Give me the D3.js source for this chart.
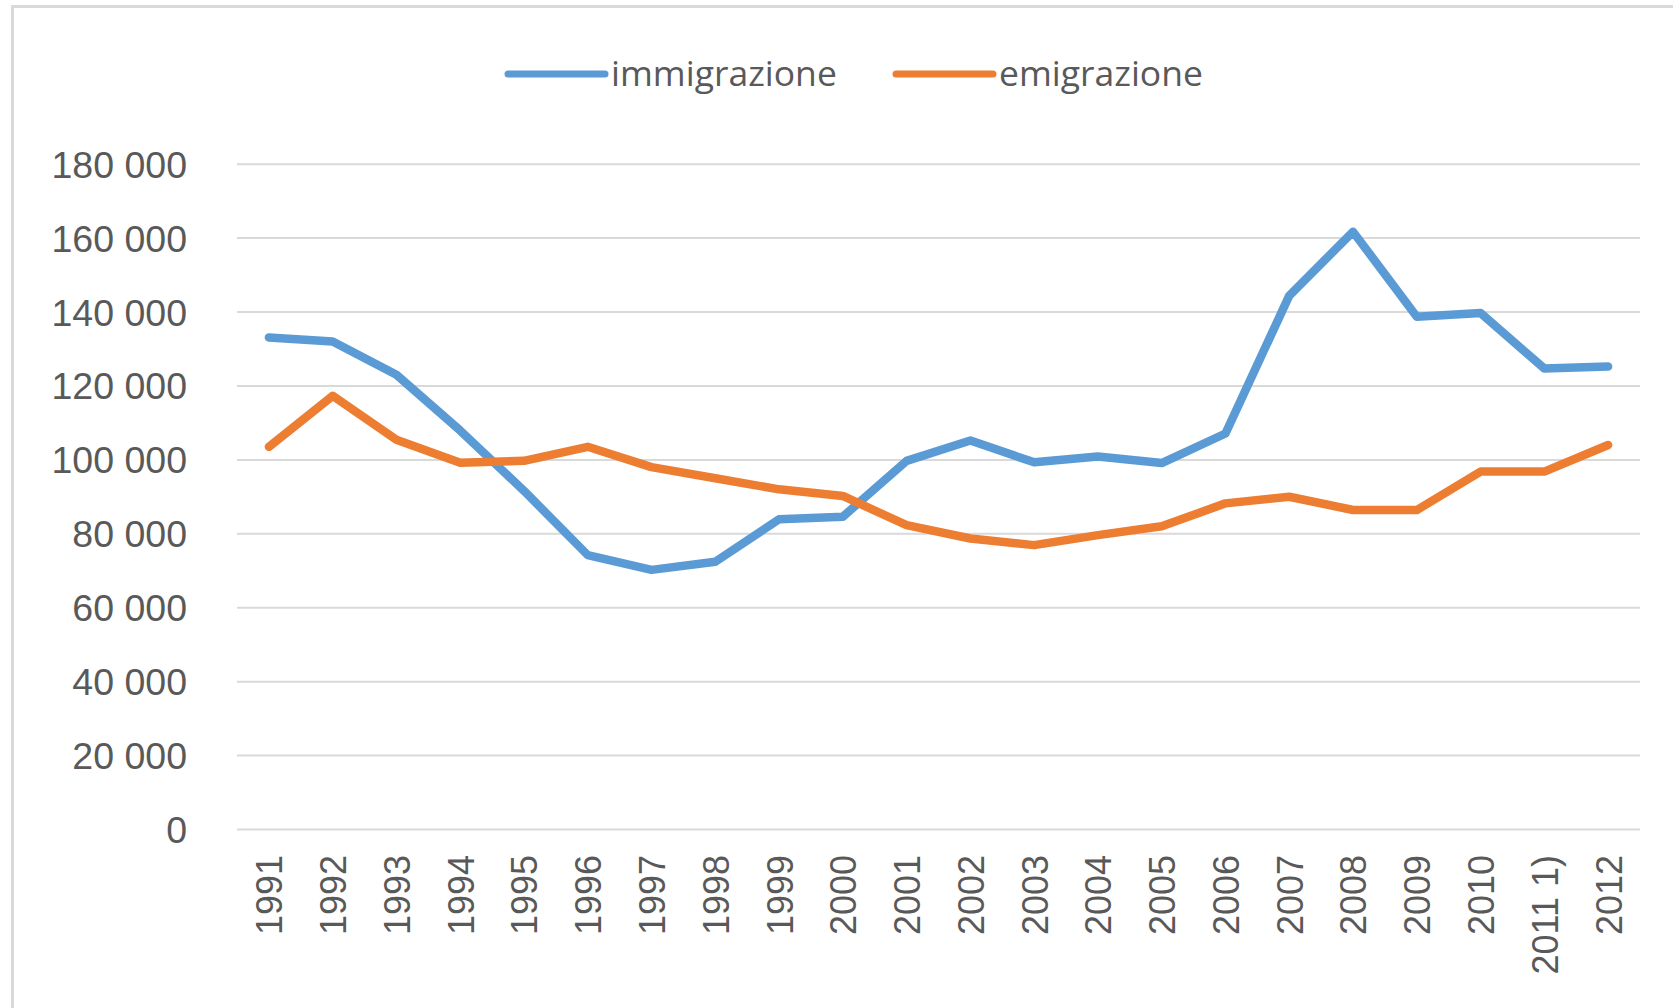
<!doctype html>
<html lang="it">
<head>
<meta charset="utf-8">
<script src="https://d3js.org/d3.v7.min.js"></script>
<style>
  body { margin: 0; background: #fff; }
  svg { display: block; font-family: "Open Sans", sans-serif; }
  .grid line { stroke: #d9d9d9; stroke-width: 2; }
  .grid .domain { display: none; }
  .axis text { fill: #595959; font-size: 36px; }
  .grid text { font-size: 37.5px; }
  .legend text { fill: #595959; font-size: 35.5px; }
</style>
</head>
<body>
<svg width="1673" height="1008"></svg>
<script>
  // years on the category axis
  var years = ["1991", "1992", "1993", "1994", "1995", "1996", "1997", "1998", "1999", "2000",
               "2001", "2002", "2003", "2004", "2005", "2006", "2007", "2008", "2009", "2010",
               "2011 1)", "2012"];
  var immigrazione = [133000, 131900, 122900, 107800, 91500, 74100, 70100, 72300, 83800, 84500,
                      99600, 105100, 99200, 100800, 99000, 107000, 144300, 161600, 138600, 139600,
                      124600, 125100];
  var emigrazione = [103400, 117200, 105300, 99100, 99600, 103400, 97900, 94900, 91900, 90100,
                     82200, 78600, 76800, 79500, 81900, 88100, 89900, 86300, 86300, 96700,
                     96700, 103900];
  var yTicks = [0, 20000, 40000, 60000, 80000, 100000, 120000, 140000, 160000, 180000];

  var series = [
    { name: "immigrazione", values: immigrazione, color: "#5b9bd5" },
    { name: "emigrazione", values: emigrazione, color: "#ed7d31" }
  ];

  function draw() {
    var svg = d3.select("svg");

    // chart frame (only top and left edges are visible in the picture)
    svg.append("rect")
      .attr("x", 12.5).attr("y", 6.5)
      .attr("width", 1700).attr("height", 1050)
      .attr("fill", "none")
      .attr("stroke", "#d9d9d9")
      .attr("stroke-width", 3);

    var plotLeft = 237, plotRight = 1640, plotTop = 163.7, plotBottom = 829;

    var x = d3.scalePoint()
      .domain(years)
      .range([plotLeft, plotRight])
      .padding(0.5);
    var y = d3.scaleLinear()
      .domain([0, 180000])
      .range([plotBottom, plotTop]);

    var fmt = d3.formatLocale({ decimal: ",", thousands: " ", grouping: [3], currency: ["", ""] }).format(",d");

    // horizontal gridlines + y labels
    var yAxis = svg.append("g")
      .attr("class", "grid axis")
      .attr("transform", "translate(" + plotLeft + ",0)")
      .call(d3.axisLeft(y).tickValues(yTicks).tickSize(-(plotRight - plotLeft)).tickPadding(50).tickFormat(fmt));
    yAxis.selectAll("text").attr("dy", "0.36em");

    // x labels, rotated
    var xAxis = svg.append("g")
      .attr("class", "axis")
      .attr("transform", "translate(0," + plotBottom + ")")
      .call(d3.axisBottom(x).tickSize(0));
    xAxis.select(".domain").remove();
    xAxis.selectAll("text")
      .attr("transform", "rotate(-90)")
      .attr("x", -26)
      .attr("y", 0)
      .attr("dy", "0.36em")
      .style("text-anchor", "end");

    var line = d3.line()
      .x(function(d, i) { return x(years[i]); })
      .y(function(d) { return y(d); });

    svg.selectAll(".series")
      .data(series)
      .enter().append("path")
      .attr("class", "series")
      .attr("fill", "none")
      .attr("stroke", function(d) { return d.color; })
      .attr("stroke-width", 8.5)
      .attr("stroke-linejoin", "round")
      .attr("stroke-linecap", "round")
      .attr("d", function(d) { return line(d.values); });

    // legend
    var legendX = [508, 896];
    var legend = svg.append("g").attr("class", "legend");
    series.forEach(function(s, i) {
      legend.append("line")
        .attr("x1", legendX[i]).attr("x2", legendX[i] + 97)
        .attr("y1", 74).attr("y2", 74)
        .attr("stroke", s.color)
        .attr("stroke-width", 7)
        .attr("stroke-linecap", "round");
      legend.append("text")
        .attr("x", legendX[i] + 103)
        .attr("y", 86)
        .text(s.name);
    });
  }

  draw();
</script>
</body>
</html>
